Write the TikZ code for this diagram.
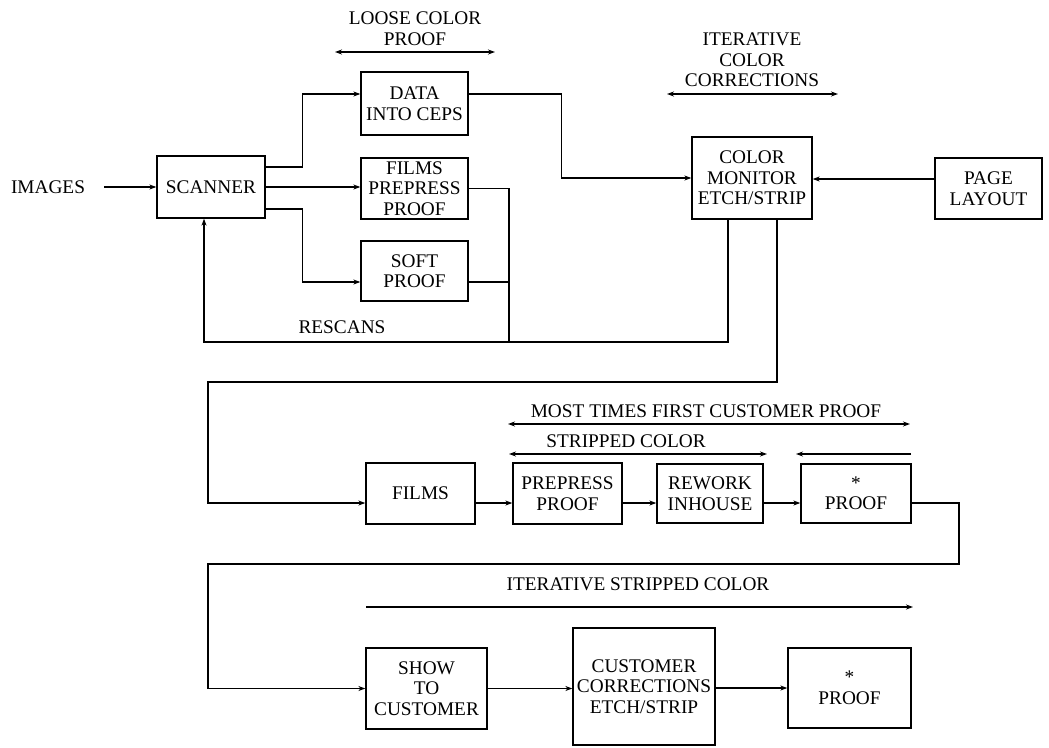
\documentclass[tikz,border=0pt]{standalone}
\usepackage{fontspec}
\setmainfont{Liberation Serif}
\usetikzlibrary{arrows.meta}
\begin{document}
\begin{tikzpicture}[x=1pt,y=-1pt,
  box/.style={draw, line width=1.3pt, inner sep=0pt, align=center, font=\fontsize{19.3}{20.5}\selectfont},
  lbl/.style={inner sep=0pt, align=center, font=\fontsize{19.3}{20.5}\selectfont},
  ln/.style={line width=1.3pt},
  arr/.style={line width=1.3pt, -{Stealth[length=7pt,width=5pt]}},
  darr/.style={line width=1.3pt, {Stealth[length=7pt,width=5pt]}-{Stealth[length=7pt,width=5pt]}}]
\useasboundingbox (0,0) rectangle (1049,747);

% ---- top row ----
\node[lbl] (images) at (48,187) {IMAGES};
\node[box, minimum width=108pt, minimum height=62pt] (scanner) at (211,187) {SCANNER};
\node[box, minimum width=107pt, minimum height=63pt] (data) at (414.5,103.5) {DATA\\INTO CEPS};
\node[box, minimum width=107pt, minimum height=61pt] (films1) at (414.5,188.5) {FILMS\\PREPRESS\\PROOF};
\node[box, minimum width=107pt, minimum height=60pt] (soft) at (414.5,271) {SOFT\\PROOF};
\node[box, minimum width=120pt, minimum height=82pt] (color) at (752,178) {COLOR\\MONITOR\\ETCH/STRIP};
\node[box, minimum width=107pt, minimum height=61pt] (page) at (988.5,188.5) {PAGE\\LAYOUT};

\node[lbl] (loose) at (415,28.5) {LOOSE COLOR\\PROOF};
\node[lbl] (iter) at (752,60) {ITERATIVE\\COLOR\\CORRECTIONS};
\node[lbl] (rescans) at (342,327) {RESCANS};

\coordinate (la) at (335,52);
\coordinate (lb) at (495,52);
\coordinate (ia) at (667,94);
\coordinate (ib) at (838,94);
\draw[darr] (la) -- (lb);
\draw[darr] (ia) -- (ib);

\coordinate (j1) at (509,342);
\coordinate (r1) at (728,342);
\coordinate (r2) at (777,382);
\coordinate (l1) at (208,382);

\draw[arr] ([xshift=19pt]images.east) -- (scanner.west);
\draw[arr] ([yshift=20pt]scanner.east) -- ++(37,0) |- ([yshift=9.5pt]data.west);
\draw[arr] (scanner.east) -- (scanner.east -| films1.west);
\draw[arr] ([yshift=-22pt]scanner.east) -- ++(37,0) |- ([yshift=-11pt]soft.west);
\draw[ln] (films1.east) -| (j1);
\draw[ln] ([yshift=-11pt]soft.east) -- ([yshift=-11pt]soft.east -| j1);
\draw[arr] (color.south -| r1) -- (r1) -| ([xshift=-7pt]scanner.south);
\draw[arr] ([yshift=9.5pt]data.east) -- ++(93,0) |- (color.west);
\draw[arr] ([yshift=9.5pt]page.west) -- ([yshift=9.5pt]page.west -| color.east);

% ---- middle row ----
\node[box, minimum width=109pt, minimum height=61pt] (films2) at (420.5,493.5) {FILMS};
\node[box, minimum width=109pt, minimum height=61pt] (prepress) at (567.5,493.5) {PREPRESS\\PROOF};
\node[box, minimum width=106pt, minimum height=59pt] (rework) at (710,493.5) {REWORK\\INHOUSE};
\node[box, minimum width=110pt, minimum height=59pt] (proof1) at (856,493.5) {*\\PROOF};

\node[lbl] (most) at (706,411) {MOST TIMES FIRST CUSTOMER PROOF};
\node[lbl] (stripped) at (626,441) {STRIPPED COLOR};

\coordinate (ma) at (508,424);
\coordinate (mb) at (910,424);
\coordinate (sa) at (509,454);
\coordinate (sb) at (767,454);
\coordinate (pa) at (911,454);
\coordinate (pb) at (796,454);
\draw[darr] (ma) -- (mb);
\draw[darr] (sa) -- (sb);
\draw[arr] (pa) -- (pb);

\draw[arr] (color.south -| r2) -- (r2) -- (l1) |- ([yshift=-9.5pt]films2.west);
\draw[arr] ([yshift=-9.5pt]films2.east) -- ([yshift=-9.5pt]prepress.west);
\draw[arr] ([yshift=-9.5pt]prepress.east) -- ([yshift=-9.5pt]rework.west);
\draw[arr] ([yshift=-9.5pt]rework.east) -- ([yshift=-9.5pt]proof1.west);

% ---- bottom row ----
\node[box, minimum width=121pt, minimum height=81pt] (show) at (426.5,688.5) {SHOW\\TO\\CUSTOMER};
\node[box, minimum width=142pt, minimum height=117pt] (cust) at (644,686.5) {CUSTOMER\\CORRECTIONS\\ETCH/STRIP};
\node[box, minimum width=123pt, minimum height=80pt] (proof2) at (849.5,688) {*\\PROOF};

\node[lbl] (itstr) at (638,584) {ITERATIVE STRIPPED COLOR};
\coordinate (ta) at (366,607);
\coordinate (tb) at (913,607);
\draw[arr] (ta) -- (tb);

\coordinate (q1) at (959,564);
\coordinate (q2) at (208,564);
\draw[arr] ([yshift=-9.5pt]proof1.east) -| (q1) -- (q2) |- (show.west);
\draw[arr] (show.east) -- (show.east -| cust.west);
\draw[arr] (cust.east |- proof2.west) -- (proof2.west);
\end{tikzpicture}
\end{document}
